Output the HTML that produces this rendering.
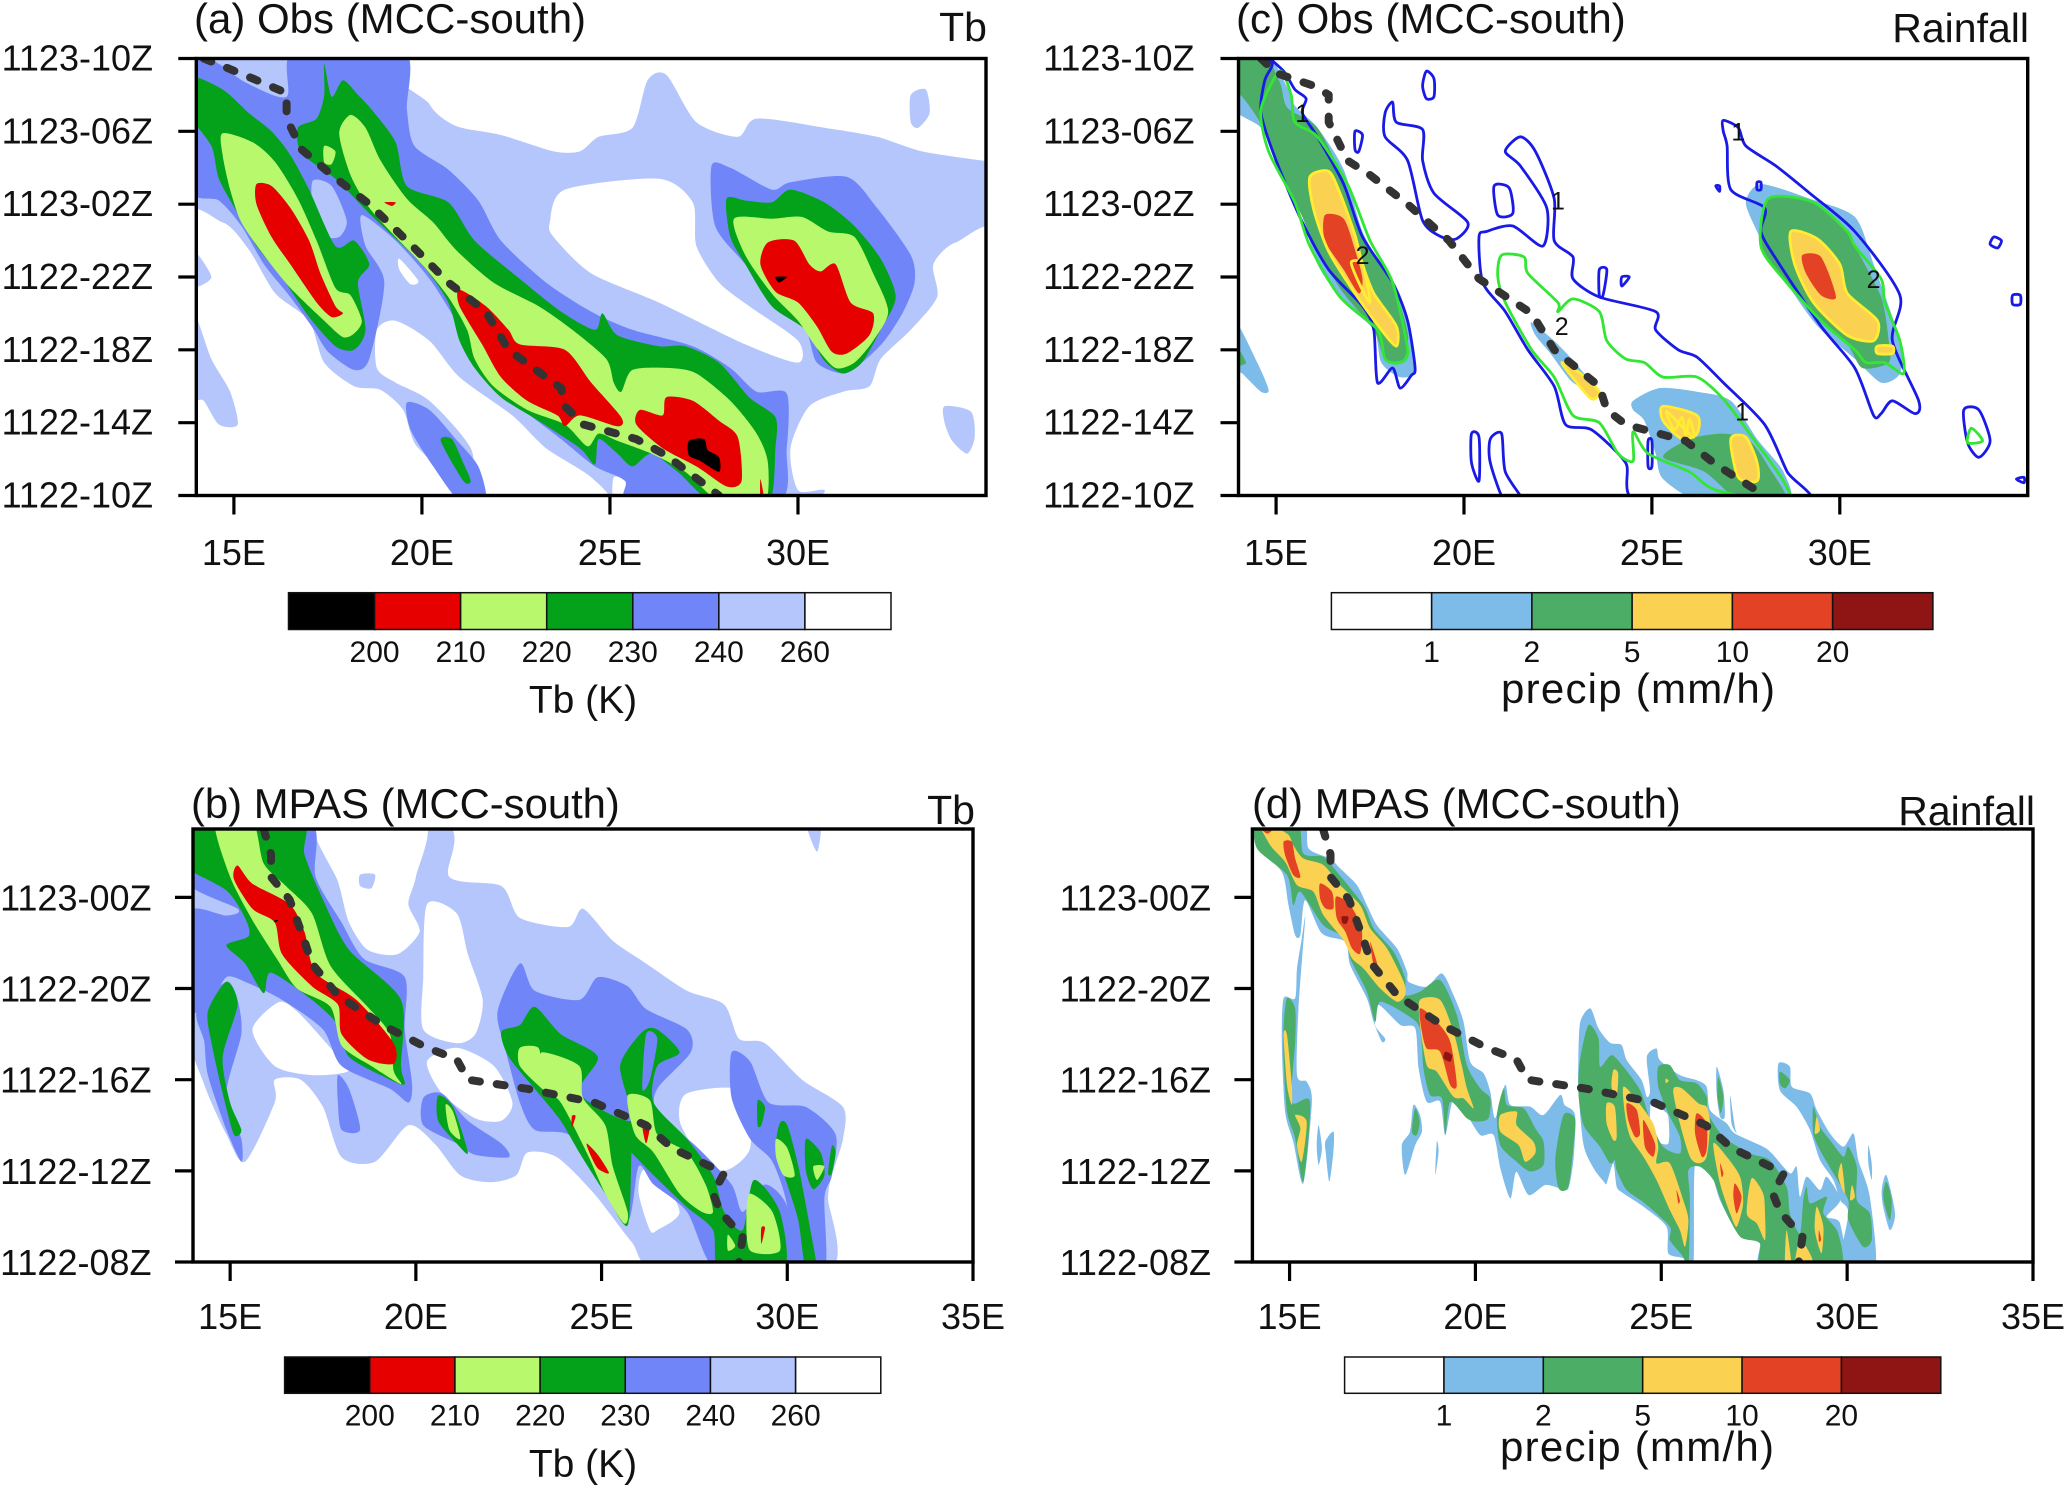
<!DOCTYPE html>
<html lang="en">
<head>
<meta charset="utf-8">
<title>MCC-south Hovmoller diagrams</title>
<style>
html,body{margin:0;padding:0;background:#fff;}
svg{display:block;font-family:"Liberation Sans",sans-serif;fill:#111;}
</style>
</head>
<body>
<svg id="figure" xmlns="http://www.w3.org/2000/svg" width="2067" height="1493" viewBox="0 0 2067 1493">
  <rect width="2067" height="1493" fill="#fff"/>
  <text x="194" y="33" font-size="42">(a) Obs (MCC-south)</text>
  <text x="987" y="41" font-size="41" text-anchor="end">Tb</text>
  <text x="1236" y="33" font-size="42">(c) Obs (MCC-south)</text>
  <text x="2029" y="42" font-size="41" text-anchor="end">Rainfall</text>
  <text x="191" y="818" font-size="41.8">(b) MPAS (MCC-south)</text>
  <text x="975" y="824" font-size="41" text-anchor="end">Tb</text>
  <text x="1252" y="818" font-size="41.8">(d) MPAS (MCC-south)</text>
  <text x="2035" y="825" font-size="41" text-anchor="end">Rainfall</text>
  <text x="583" y="713" font-size="39" text-anchor="middle">Tb (K)</text>
  <text x="583" y="1477" font-size="39" text-anchor="middle">Tb (K)</text>
  <text x="1638" y="703" font-size="42" text-anchor="middle" textLength="274" lengthAdjust="spacing">precip (mm/h)</text>
  <text x="1637" y="1461" font-size="42" text-anchor="middle" textLength="274" lengthAdjust="spacing">precip (mm/h)</text>
</svg>
<script>
/* ---------- axis labels and legend values ---------- */
const lonTicksTop = [15, 20, 25, 30];
const lonTicksBottom = [15, 20, 25, 30, 35];
const hourTicksTop = [0, 4, 8, 12, 16, 20, 24];
const hourLabelsTop = ['1122-10Z', '1122-14Z', '1122-18Z', '1122-22Z', '1123-02Z', '1123-06Z', '1123-10Z'];
const hourTicksBottom = [0, 4, 8, 12, 16];
const hourLabelsBottom = ['1122-08Z', '1122-12Z', '1122-16Z', '1122-20Z', '1123-00Z'];
const tbLevels = [200, 210, 220, 230, 240, 260];
const tbColors = ['#000000', '#e60000', '#b8f86c', '#04a21a', '#7086f8', '#b4c6fc', '#ffffff'];
const rainLevels = [1, 2, 5, 10, 20];
const rainColors = ['#ffffff', '#7dbbe8', '#4bad66', '#fbd152', '#e34225', '#8f1414'];

/* ---------- panel (a) Obs Tb: polygons as lon,hour pairs (hours since 1122-10Z) ---------- */
const aTb260 = [[14,0,35,0,35,24,14,24]];
const aClear = [
 [19.8,24.5,20.2,21.5,20.9,20.3,22.1,19.8,23.5,18.9,24.2,18.9,24.7,19.7,25.6,20.2,26,22.8,26.5,23.1,27.3,20.5,28.4,19.7,28.9,20.7,30.7,20.2,32.1,19.7,33.3,18.9,34.9,18.4,35.5,18.4,35.5,24.5],
 [23.4,15,23.8,16.8,26.3,17.4,27.2,16.1,27.3,13.7,27.9,11.7,28.7,10.4,30,8.5,30,7.3,28.6,8.3,26.3,10.6,24.5,12.2,23.5,14.2],
 [35.5,14,34.2,13.9,33.6,12.7,33.7,10.9,33,9.1,32.2,7.5,31.9,6,31.2,5.7,30.3,4.9,29.8,2.6,30,0.3,30.7,0.3,30.9,-0.5,35.5,-0.5],
 [13.5,14.8,14.7,15,15.4,13.5,16.1,11.1,17,9.6,17.4,7.3,18.2,6,18.9,5.8,19.5,4.7,19.8,2.9,20.7,-0.5,13.5,-0.5],
 [18.8,9.1,19.3,9.6,20.2,8.5,21,6.5,22.4,4.4,23.3,2.6,24.5,1,24.9,-0.5,21.7,-0.5,21.3,2.6,20.2,5.2,19.3,6.2,18.8,7],
 [25.1,1,25.4,0.8,25.6,-0.3,25.1,-0.3],
 [26.1,1,26.5,1.2,27,0.3,27,-0.3,26.1,-0.3],
 [19.4,13,19.9,11.8,19.7,11.6,19.4,12.4]
];
const aTb260Islands = [
 [33,22,33.4,22.3,33.5,21,33.2,20.2,33,20.5],
 [33.9,4.9,34.6,4.6,34.7,3.2,34.5,2.3,34.1,3,33.9,4],
 [13.9,10.1,14.4,7.5,14.9,5.7,15.1,3.9,14.6,3.9,14.2,5.2,13.9,5.6],
 [13.9,13.5,14.4,12,13.9,11.5]
];
const aTb240 = [
 [13.8,24.3,14.6,23.7,15.3,22.7,16.4,21.9,16.6,24.5,19.5,24.5,19.6,21.2,19.8,19.2,20.7,17.9,21.5,16.2,22.1,14,23.3,11.7,24.5,10.1,25.6,9.1,27.2,8.2,28.2,7,28.9,5.7,29.7,5.6,29.7,2.6,29.4,-0.5,25.6,-0.5,25.4,0.8,24.6,1.6,23.7,3.1,22.4,5.2,21.4,7.5,20.9,9.6,20.2,11.9,19.3,14,18.4,15.4,18.5,13.7,19,11.7,18.6,7.5,18.2,6.9,17.5,7.9,17.1,9.2,16.5,10.9,15.8,12.7,15.2,14.8,14.6,16.2,13.8,17],
 [27.7,18.1,28.2,18,29.3,16.8,29.8,17.2,31.3,17.5,32.1,15.8,33,13.2,33.1,11.7,32.8,10.1,32.3,8.5,31.7,7.3,31.2,6.7,30.5,7.3,30.2,9.1,29.4,10.6,28.6,12.7,27.8,14.8],
 [19.6,5.1,20.2,4.7,20.9,3.1,21.5,1.6,21.7,-0.3,21,-0.3,20.3,1.6,19.7,3.6]
];
const aTb240Holes = [[17.1,17.3,17.6,17,18,15.1,17.8,14.2,17.4,14.3,17.1,15.8]];
const aTb230 = [
 [13.8,23,14.7,22.3,15.4,21,16,20,16.5,18.7,17,16.8,17.7,13.7,18.2,14,18.6,12.7,18.3,11.7,18.5,9.1,18.2,8,17.7,8.2,17,9.8,16.3,11.9,15.6,13.7,15.1,15.5,14.6,17.4,14.4,19.2,13.8,21],
 [17.4,23.7,17.6,21.9,17.9,22.8,18.3,22,18.7,21.1,19.3,19.4,19.6,17,20.7,16.1,21.4,14,22.6,11.9,23.7,10.1,24.6,9.1,24.8,10,25.2,8.8,26.3,8.2,27,8.2,27.9,7.3,28.7,5.4,29.4,4.3,29.4,2.6,29.2,-0.5,27.8,-0.5,26.8,1.3,26.1,2.3,25.6,1.6,25.2,2.3,24.7,3.1,24.6,1.7,24.2,2.6,23.1,4.1,22.1,5.4,21.4,7,21,8.5,20.7,10.6,20,12.7,19.1,14.5,18.5,15.7,17.7,17.4,16.8,18.8,16.7,20.2,17.2,20.7,17.4,22],
 [28.1,16.3,28.6,16.2,29.3,16.1,29.8,16.8,30.7,16.1,31.5,14.8,32.2,13,32.6,10.9,32.2,9.1,31.7,7.3,31.2,6.7,30.7,7.4,30.2,9.1,29.3,10.4,28.6,12.7,28.2,14.2],
 [20.5,3,20.8,3.1,21.1,1.8,21.3,0.8,21.1,0.8]
];
const aTb220 = [
 [14.7,19.9,15.5,19.4,16.1,18.3,16.7,16.3,17.2,14,17.7,11.4,18.1,11,18.4,9.6,18.2,8.9,17.9,8.7,17.4,9.6,16.5,11.4,15.8,13.2,15.2,15,14.9,16.8,14.7,18.7],
 [18.1,20.9,18.5,20.2,18.9,18.4,19.6,16.3,20.3,15,20.9,13.5,21.9,11.7,23.1,10.4,24,9.1,24.9,7.5,25.1,6.2,25.3,5.7,25.6,6.9,26.6,7,27.3,6.7,28.2,5.2,28.9,3.4,29.2,1.8,29.1,-0.5,28,-0.5,27,1.3,26.1,2.3,25.2,3,24.7,3.4,24.4,2.7,23.8,3.9,22.8,4.7,21.9,6,21.4,7.5,21.2,9.1,20.7,10.9,20,12.7,19.3,14.2,18.6,15.8,18.1,17.6,17.8,19.9],
 [17.4,19.2,17.7,18.9,17.6,18.2,17.4,18.3],
 [28.3,15.2,29.3,15.2,30.1,15.3,30.8,14.5,31.5,14.2,32,12.2,32.4,10.1,32,8.5,31.5,7.3,31,7,30.5,8.1,30,9.6,29.3,11.1,28.6,13.2]
];
const aTb210 = [
 [15.6,17.1,16,17,16.5,15.8,17,14,17.3,12.2,17.7,10.4,17.9,10,17.6,9.8,17.2,10.6,16.5,12.7,16,14.2,15.6,16],
 [21,11.3,21.7,10.4,22.3,9.1,22.6,8.3,23.8,8,24.5,6.2,25.3,4.3,25.2,3.8,24.2,4.4,23.8,3.8,23.6,4.4,22.8,5.2,22.1,6.5,21.6,8.3,21,10.4],
 [26.5,5.4,27.2,5.2,27.9,4.1,28.4,3.2,28.5,0.8,28.1,0.5,27.3,1.6,26.4,2.6,25.7,3.9,25.8,4.7,26.4,4.4],
 [29.2,13.9,29.9,14,30.3,12.7,30.6,12.3,31,12.7,31.4,10.6,32,10,31.9,8.8,31.3,7.8,30.9,7.9,30.5,9.3,30,10.6,29.4,11.2,29,12.7],
 [19,16.1,19.3,16.1,19.2,15.9],
 [29,0.9,29.1,-0.2,29,-0.2]
];
const aTb200 = [
 [27.1,3,27.5,3.1,27.6,2.5,27.9,2.1,27.9,1.3,27.4,1.9,27.1,2.2],
 [29.4,12,29.7,12,29.5,11.7]
];
const aTrack = [14.2,24,14.8,23.5,15.5,22.9,16.4,22.1,16.4,20.7,16.8,19,17.6,17.6,18.6,16,19.7,13.8,20.7,11.7,21.7,10.1,22.3,8,23.7,5.9,23.8,4.9,24.3,3.9,25.7,3.1,26.5,2.2,27.9,0];

/* ---------- panel (c) Obs rainfall ---------- */
const cRain1 = [
 [13.8,24.5,14.7,24.5,15.3,22.4,15.5,21.4,16.1,20.2,16.8,17.9,17.3,14.5,18,11.9,18.5,9.8,18.7,6.9,18.3,6.5,17.8,7.3,17.6,9.1,16.8,10.6,16.1,12.7,15.7,15.3,15,18.4,14.6,20.2,13.8,21.4],
 [13.9,9.6,14.5,7.3,14.8,5.8,14.6,5.7,14.1,6.7,13.9,7],
 [21.8,9.5,22.5,8.3,23.2,6.7,23.5,5.8,22.9,6.2,22.3,7.8,21.9,8.8],
 [24.5,5.2,25.2,5.9,26.2,5.7,27.1,5.2,27.8,3.1,28.5,1.3,28.6,-0.4,26.4,-0.4,25.3,0.9,25.1,2.3,24.8,4.1,24.5,4.7],
 [27.5,16.1,27.9,17.1,29.2,16.3,30.4,15.3,30.9,12.7,31.6,8.5,31.6,6.7,31.1,6.2,30.4,7.5,29.5,9.1,29,10.4,28.1,13.2,27.8,14.5]
];
const cRain2 = [
 [13.8,24.5,14.6,24.5,15.1,22.7,15.3,21.3,16.1,20.2,16.8,17.3,17.3,14.2,18.1,11.6,18.5,8.9,18.4,7.5,17.9,7.5,17.6,9.1,16.8,11.1,16.1,13.4,15.7,15.3,15,18.4,14.6,20.4,14.1,21.9,13.8,22.3],
 [13.9,8.3,14.2,7.3,13.9,7.2],
 [25.3,2.1,26,3.1,26.9,3.4,27.6,3,28.1,1.6,28.6,-0.4,27.4,-0.4,26.4,1.3],
 [28.1,16.3,29.3,16.1,30.2,14.5,30.4,13.7,31.1,10.9,31.3,8.5,31.3,7.3,30.6,7,30.2,8.3,29.3,10.1,28.5,11.9,27.9,13.7]
];
const cRain5 = [
 [15.9,17.5,16.4,17.8,16.7,16.6,17.1,14.3,17.3,12.7,17.6,11.1,18.2,9.3,18.2,8.2,17.8,9.1,17.1,11.1,16.4,13.4,16,15.7],
 [22.6,7.3,23.1,6.7,23.6,5.7,23.4,5.3,23,6.2],
 [25.3,4.9,26.2,4.4,26.2,3.4,25.8,3.1,25.3,4.1],
 [27.1,3.1,27.5,3.2,27.8,1.8,27.8,0.8,27.3,1],
 [28.7,14.5,29.4,14.1,30,12.7,30.2,11.1,31,9.6,30.9,8.5,30.2,8.8,29.3,10.6,28.8,12.7],
 [31,8.2,31.4,8.2,31.4,7.8,31,7.8]
];
const cRain10 = [
 [16.3,15.4,16.8,15.2,17.1,13.5,17.3,11.9,17.2,11.1,16.8,12.4,16.3,14],
 [29,13.2,29.5,13.1,29.9,10.9,29.5,11,29.1,12.2]
];
const cContourBlue = [
 [14.6,24.4,14.9,23.7,14.7,22.8,14.6,21,15,18.4,15.7,15,16.4,12.4,17.3,10.4,17.6,9.1,17.7,6.2,18.1,7,18.3,5.9,18.6,6.6,18.7,7,18.5,9.6,18.1,11.7,17.3,14.2,16.8,17.1,16.1,19.7,15.7,21,15.8,21.8,15.5,22.3,15.2,23.3],
 [18.1,21.6,18.2,20.5,18.9,20.1,18.9,18.4,19.2,16.6,20.1,15,19.8,14.1,19.4,14.2,18.9,15.1,18.5,18.4,17.9,19.7,17.9,21],
 [24.7,-0.4,24.3,1.8,23.4,3.6,22.7,3.9,22.4,6,21.7,8,21.1,10.1,20.5,11.7,20.4,14.2,20.6,14.5,21.3,14.8,22.1,13.7,22.2,15.8,21.5,18.1,21.1,18.9,21.5,19.7,21.9,18.9,22.4,16.3,22.4,14,22.9,13.1,22.9,11.9,23.6,10.9,25.1,10.1,25.1,9.1,25.7,8,26.2,7.6,26.9,6.2,28,3.9,28.6,1.3,29.1,-0.4],
 [20.8,17,21.2,16.9,21.3,15.5,20.9,15.4],
 [19,23.3,19.2,22.9,19.2,21.9,19,21.8,18.9,22.5],
 [17.1,20,17.3,19.8,17.2,18.9,17.1,19],
 [20.2,3.4,20.4,3.2,20.4,0.8,20.2,1.8],
 [20.7,3.1,21,3.4,21.1,1.3,21.6,-0.4,21.1,-0.4,20.7,1.8],
 [23.6,12.4,23.8,12.4,23.7,11,23.6,11],
 [24.2,12,24.4,12,24.2,11.5],
 [24.9,3,25,3,25,1.6,24.9,1.6],
 [26.9,20.6,27.3,20.2,27.5,19.2,28.3,18.1,29.2,16.6,30.4,14.5,31.6,11,31.4,8.5,32.1,5.2,32,4.5,31.4,5.2,31.1,4.5,30.9,4.4,30.4,7,29.5,9.3,28.3,13,27.9,14.5,28,15.8,27.1,16.8,27,19.2,26.9,20],
 [34.1,14.2,34.3,14,34.2,13.6,34,13.8],
 [34.6,11,34.8,11,34.8,10.5,34.6,10.5],
 [33.3,4.7,33.7,4.7,34,3,33.7,2.1,33.4,2.9],
 [34.7,0.9,34.9,1,34.9,0.7],
 [27.8,17.2,27.9,17.2,27.9,16.8,27.8,16.8],
 [26.7,17,26.8,17,26.8,16.7]
];
const cContourGreen = [
 [14.6,21.2,15.1,23.3,15.4,22,15.5,20.5,16.1,19.7,16.9,17.1,17.5,14,18.1,11.7,18.5,8,18.3,7.3,17.9,7.5,17.7,9.1,16.7,10.9,15.9,13.7,15.5,16.1,14.8,18.9],
 [26.7,0.3,26,1.3,24.9,2.3,24.5,3.5,24.5,1.9,24.1,2.3,23.6,4,22.9,4.4,22.4,6.5,21.8,8,21.1,10.6,20.9,12,21,13.2,21.6,13.1,21.7,12.2,22.5,10.6,22.5,10.1,22.9,10.8,23.6,10.1,23.8,8.5,24.3,7.5,24.8,7.3,25.3,6.5,26.2,6.5,26.9,5.3,27.6,3.4,28.5,0.8,28.6,-0.4],
 [28.1,16.3,29.3,16.1,30.2,14.5,30.4,13.7,31.1,11.9,31.2,10.6,31.6,8.5,31.7,6.7,31.2,7.3,30.7,7.3,30.4,8,29.5,9.6,28.5,11.9,27.9,13.7],
 [33.5,3.7,33.8,3,33.4,2.9]
];
const cContourYellow = [
 [17,12.8,17.3,12.7,17.5,10.6,17.2,11.7],
 [25.4,4.6,25.6,3.6,25.8,4.3,25.9,3.3,26,4.2,26.1,3.2]
];
const cTrack = [14.6,24,15,23.2,16,22.5,16.4,22,16.4,20.5,16.9,18.4,17.5,17.6,18.5,16,19.6,14,20.4,11.9,21.8,10,22.4,8,23.6,6,23.8,4.7,24.3,3.9,25.9,3,26.7,1.7,28,0];
const cLabelText = ['2', '2', '2', '1', '1', '1', '1'];
const cLabelLon = [22.6, 17.3, 30.9, 15.7, 22.5, 27.3, 27.4];
const cLabelHour = [9.3, 13.2, 11.9, 21, 16.2, 20, 4.6];

/* ---------- panel (b) MPAS Tb: hours since 1122-08Z ---------- */
const bTb260 = [
 [13.8,19.4,20.6,19.4,20.9,16.9,22.3,16.5,22.8,15.1,24.1,14.7,24.5,15.5,25.3,14.1,26.2,13.1,27.3,11.9,28.3,11.3,28.7,9.8,29.4,9.6,30.4,8,31.5,6.8,31.5,5.4,31.2,3.8,31.1,2.8,31.1,-0.4,26.6,-0.4,25.8,0.9,24.8,3,23.8,4.6,23,4.8,22.7,3.8,22,3.5,21.2,3.8,20.5,5.2,19.8,6,18.9,4.4,18,4.6,17.5,6.8,16.9,8,16.2,8,16.2,7,15.4,4.4,14.9,5.6,14.3,7.8,13.8,10.8],
 [30.5,19.3,30.9,19.3,30.8,18]
];
const bClear = [
 [17.3,19.4,20.2,19.4,20,16.9,19.8,15.7,20.1,14.5,19.5,13.5,18.7,13.7,18.2,14.9,17.9,16.7],
 [20.3,15.7,21.1,15.3,21.4,13.5,21.8,11.5,21.6,10,21.1,9.6,20.2,10.2,20.2,12.5],
 [16.3,11.4,16.8,11,17.7,9.4,18.2,8.4,17.2,8.2,16.2,8.6,15.6,10.2],
 [20.3,8.8,21.1,9.4,22.1,8.6,22.6,7,22.3,6.2,21.6,6.3,20.7,7.4],
 [27.3,7.4,28.8,7.5,29,5,28.3,4,27.6,4.8,27.1,6.2],
 [26.1,4,26.5,4,27.1,2.2,26.5,1.4,26.3,1.4,26,3]
];
const bTb260Islands = [[18.5,17,18.9,17,18.8,16.4,18.5,16.5]];
const bTb240 = [
 [13.8,19.4,17.1,19.4,17.3,16.9,18,14.9,18.6,13.3,19.7,12.5,19.7,10.2,19.9,7.8,19.8,7,19.3,7.6,18,8.6,17.5,10.2,16.4,11.5,15.4,12.3,14.9,12.5,14.5,11.5,13.8,11,13.8,15.3,14.9,15.2,15.2,15.5,13.8,16.7],
 [14.9,12.3,15.2,11.5,15.3,10,14.9,7.4,15.3,5.4,15.3,4.4,14.9,5.8,14.4,8.2,14.3,9.7,14.1,11],
 [22.8,13.1,23.2,11.9,24.4,11.5,24.9,12.5,25.7,12.1,26.2,11.1,27.3,10.2,27.4,9.2,26.5,7.6,26.5,6.6,27.6,5,28.5,3.4,28.8,2.2,29.4,3.4,30,2.4,30,-0.4,28.1,-0.4,27.3,2.2,26.4,3.4,26,4.2,25.7,1.8,24.9,4.2,24.1,5.6,23.2,5.8,22.8,7,22.4,9.4,22.2,11],
 [28.5,9.2,29,8.8,29.5,7,30.5,6.8,31.3,5.6,31.2,3.8,31,2.8,31,-0.4,30,-0.4,30,2.4,29.6,4.4,29,5.4,28.5,7.2],
 [20.2,7.2,20.7,7.4,21.4,6.2,22.3,5.2,22.5,4.6,21.6,4.7,21.1,5.2,20.2,6],
 [17.9,8.2,18.2,7.6,18.5,5.8,18,5.8,17.9,7]
];
const bTb230 = [
 [14.3,19.4,16.9,19.4,17,17.9,17.5,15.9,18.2,13.7,19.6,11.5,19.6,8.6,19.7,7.8,19.3,8,18.2,9,17.9,10.4,17.2,11.5,16.1,12.7,15.9,11.8,15.4,13.1,14.9,13.9,15.5,14.3,15.4,15.1,14.9,16.3,13.8,17.3,13.8,17.9],
 [14.9,12.3,15.2,11.3,14.8,9,15,7,15.3,5.8,15.1,5.6,14.8,7.4,14.5,9.6,14.4,11],
 [23.2,11.2,23.9,10,24.9,9,24.4,7.4,25.8,6.2,25.5,8.6,26.1,10.1,26.5,10.2,27.1,9.2,26.5,8.6,26.4,7,27.3,5.4,28,3.8,28.3,2.2,28.8,1.4,29.1,3.6,29.8,2.2,29.9,-0.4,28.2,-0.4,28,1.4,27.3,2.4,26.4,3.8,25.8,4.8,25.8,4.6,25.7,1.6,25.1,3,24.4,4.8,23.9,6.2,23.2,7.6,22.5,9,22.3,10.1,22.8,10.4],
 [29.8,6.1,30,6,30.3,4.2,30.6,1.6,30.8,-0.4,30.5,-0.4,30.3,1.8,30,3.4,29.7,5],
 [30.5,5.4,30.9,4.8,31,3.8,30.7,3.2,30.5,4],
 [31.2,5.1,31.3,4.8,31.2,3.9,31.1,3.9],
 [20.6,7.3,21,6.8,21.4,4.8,21.1,5.2,20.6,6.2],
 [29.2,7.1,29.4,6.8,29.3,6,29.2,6]
];
const bTb230Holes = [[26.2,10,26.5,9.8,26.3,8,26.1,7.6]];
const bTb220 = [
 [14.6,19.3,15.6,19.3,15.9,17.5,16.5,16.5,17.2,15.3,17.7,13,18.7,11.2,19.3,10,19.4,8.4,19.6,7.8,18.8,8.6,18,9.5,17.7,11.2,16.8,12,16.3,13.2,15.6,15,15,16.9],
 [22.8,9.4,23.3,9.4,23.4,8.4,23.4,9.2,24.4,8.6,24.5,7.2,25.1,6,25.3,4.2,25.7,2.2,25.6,1.7,25.1,3,24.6,4.8,23.9,7,23.4,7.6,22.8,8.6],
 [25.7,7.3,26.3,7.1,26.5,5.6,27.3,4.8,27.8,3.4,28,2.2,27.7,2.2,27.1,3,26.4,4.8,25.9,5.6],
 [29,3,29.6,2.2,29.8,0.5,29,0.5,28.9,2],
 [29.7,5.4,30,5,30.2,3.8,29.9,3.8,29.7,4.6],
 [30.7,4.2,31,4.2,30.8,3.6],
 [20.8,6.9,21,6.6,21.2,5.4,20.9,5.8],
 [28.4,1.2,28.6,0.7,28.4,0.5]
];
const bTb210 = [
 [15.2,17.4,15.6,16.6,16.6,15.7,17,14.5,17.3,12.7,18.4,11.5,19.4,9.6,19.4,8.7,18.7,8.9,18,10,17.9,11.3,17.2,12.1,16.4,13.5,16.2,14.9,15.6,15.5,15.1,16.8],
 [24.2,6.4,24.3,6.4,24.2,5.9],
 [24.6,5.2,24.9,4.7,25.2,3.9,24.9,4.1,24.7,4.7],
 [26.1,6,26.3,6,26.2,5.2],
 [29.3,1.5,29.4,1.5,29.3,0.8]
];
const bTb200 = [[16.2,15,16.3,15,16.2,14.9]];
const bdTrack = [15.9,19,16.1,17.9,16.1,16.9,16.6,15.9,17,14.1,17.2,13.1,17.9,11.7,19.1,10.4,20.3,9.4,21.1,8.9,21.4,8,23,7.6,24.8,7,26.2,6,26.9,5,28.3,3.9,28,3,28.2,2.2,28.8,1.1,28.7,0];

/* ---------- panel (d) MPAS rainfall ---------- */
const dRain1 = [
 [14.12,19.4,15.37,19.4,15.51,18.15,16.09,17.7,16.36,17.27,16.81,16.54,17.08,15.66,17.35,14.78,17.89,13.76,18.16,12.74,18.2,12.3,18.69,12.08,19.1,12.66,19.41,11.71,19.68,10.54,19.86,8.79,20.22,8.28,20.4,7.47,20.53,6.3,20.8,7.77,20.94,6.89,21.47,6.82,21.83,6.45,22.28,7.33,22.4,6.89,22.68,6.45,22.64,4.55,22.5,3.23,22.28,3.23,21.88,3.38,21.43,2.94,21.1,3.96,20.94,2.79,20.67,4.11,20.49,5.57,20.13,5.57,19.77,6.45,19.41,7.18,19.19,5.57,19.05,7.03,18.69,7.03,18.47,8.5,18.38,10.25,17.98,10.4,17.39,11.28,17.3,10.4,17.57,9.81,17.48,9.67,17.26,10.54,17.08,11.57,16.63,13.03,16.5,14.05,15.87,14.42,15.42,15.88,15.29,14.35,15.15,14.35,14.97,15.66,14.79,17.12,14.12,18.22],
 [14.84,11.57,15.15,11.57,15.2,12.88,15.33,14.2,15.42,15.08,15.24,11.13,15.2,8.2,15.46,7.91,15.6,7.03,15.37,3.45,15.1,5.28,14.88,6.6,14.79,9.67],
 [15.78,6.01,15.87,4.99,15.78,4.26,15.73,5.13],
 [15.96,5.28,16.18,5.72,16.18,4.84,16.07,3.53,15.98,4.7],
 [18.33,6.89,18.51,6.45,18.56,5.72,18.38,5.13,18.11,3.82,18.02,5.13,18.24,5.72],
 [18.96,5.28,19.01,4.84,18.92,3.82],
 [22.82,10.54,23.09,11.13,23.31,10.25,23.62,9.62,23.93,9.52,24.07,8.86,24.47,7.98,24.61,7.25,24.7,7.54,24.61,9,24.87,9.37,24.96,8.86,25.5,8.2,25.95,7.98,26.22,7.69,26.31,6.67,26.76,6.08,26.98,5.64,27.74,5.06,27.97,4.77,28.46,3.89,28.64,4.18,28.73,2.86,28.91,3.74,29.27,3.16,29.45,3.74,29.81,2.72,29.45,1.99,29.81,1.69,29.81,-0.4,27.7,-0.4,27.65,0.96,27.03,1.4,26.58,2.72,26.31,4.03,25.91,4.33,25.86,-0.3,25.59,0.16,25.19,0.38,25.14,1.55,24.52,2.43,23.98,3.01,23.8,3.3,23.71,4.33,23.53,3.45,23.45,3.53,23.18,4.11,22.91,5.13,22.77,7.47,22.77,8.93],
 [28.15,8.71,28.46,8.57,28.51,7.69,29,7.4,29.18,6.67,29.54,5.64,29.9,5.06,30.17,5.64,30.3,4.47,30.61,2.86,30.75,-0.4,29.81,-0.4,30.03,2.13,29.81,2.72,29.63,3.6,29.27,4.47,29,5.79,28.64,6.81,28.19,7.54],
 [26.49,8.57,26.67,7.54,26.71,6.37,26.58,6.37,26.49,7.4],
 [26.85,7.32,26.98,5.93,27.03,5.64,26.89,6.08],
 [30.57,5.13,30.66,4.33,30.66,3.6,30.57,4.33],
 [31.06,3.81,31.29,2.13,31.15,1.4,30.97,2.43,30.93,3.16]
];
const dClear = [[24.74,7.1,25.05,6.67,25.19,6.37,25.19,5.2,24.83,5.35,24.7,5.93]];
const dRain2 = [
 [14.14,19.4,15.2,19.4,15.37,17.93,15.91,17.78,16.27,17.12,16.99,15.66,17.26,14.64,17.8,13.61,18.11,12.44,18.11,11.71,18.51,11.86,19.05,12.37,19.5,10.84,19.77,8.64,20.13,7.62,20.4,7.18,20.35,6.3,20.04,6.16,19.77,6.3,19.32,7.03,19.19,5.57,19.1,7.18,18.78,7.33,18.6,8.5,18.51,10.25,18.16,10.84,17.44,11.42,17.3,10.54,17.08,11.86,16.63,13.32,16.54,14.2,15.91,14.78,15.29,16.25,15.1,15.66,14.93,16.98,14.12,18.15],
 [14.93,11.57,15.15,11.13,15.15,9.67,15.06,7.03,15.55,7.03,15.37,3.53,15.15,5.43,14.93,6.6,14.84,8.93,14.84,10.4],
 [18.38,6.74,18.5,6.16,18.42,5.57,18.29,5.72],
 [20.76,7.62,20.85,6.89,21.3,6.74,21.61,5.87,21.83,5.28,21.83,4.26,21.47,3.97,21.11,4.4,20.67,5.13,20.58,6.45],
 [22.37,6.45,22.68,6.3,22.64,5.13,22.5,3.31,22.24,3.23,22.15,4.55],
 [23.35,8.57,23.66,9.08,23.98,8.57,24.43,7.54,24.7,6.23,25.05,5.06,25.5,4.76,25.5,5.5,25.19,6.52,24.92,7.69,24.92,8.57,25.23,8.64,25.5,7.98,25.95,7.84,26.22,7.25,26.26,6.52,26.67,5.5,27.39,4.76,27.92,4.47,28.37,3.3,28.46,2.13,28.73,1.26,28.82,2.72,28.91,3.3,29,2.57,29.45,2.86,29.36,2.13,29.76,1.26,29.76,-0.4,27.74,-0.4,27.65,0.82,27.12,1.11,26.67,2.43,26.4,3.6,26.04,4.18,25.73,4.03,25.77,2.72,25.73,-0.3,25.59,0.23,25.23,0.96,25.23,1.55,24.56,2.57,24.07,3.16,23.8,4.03,23.75,4.47,23.62,4.33,23.35,5.06,22.91,6.01,22.77,7.47,22.82,8.93,23.04,10.4,23.31,9.81],
 [28.19,8.35,28.46,7.98,28.33,7.62,28.19,7.83],
 [29.09,6.81,29.27,5.93,29.54,5.35,29.9,4.62,30.03,5.06,30.26,4.18,30.26,2.72,30.61,2.13,30.66,0.96,30.43,0.67,30.03,1.84,30.03,2.72,29.63,3.89,29.27,4.91,29.09,5.64],
 [26.53,8.13,26.67,7.25,26.6,6.52,26.51,7.25],
 [31.06,3.52,31.2,2.72,31.15,1.84,31.02,2.43,30.97,3.01]
];
const dRain5 = [
 [14.16,19.4,14.93,18.8,15.1,18.29,15.37,17.71,15.91,17.42,16.36,16.54,16.9,15.66,17.17,14.64,17.62,13.76,18.07,12.3,18.11,11.71,17.89,11.42,17.44,12,16.99,12.88,16.68,13.32,16.45,14.13,15.91,15.22,15.64,16.25,15.2,16.54,14.88,17.56,14.48,18.29],
 [18.51,11.5,19.05,11.5,19.41,10.1,19.63,8.64,19.77,7.62,19.95,6.74,19.68,7.18,19.41,7.25,18.96,8.35,18.69,8.64,18.51,10.4],
 [20.67,6.45,21.11,6.6,21.11,6,21.56,5.28,21.61,4.77,21.34,4.4,21.16,5.13,20.67,5.72],
 [14.84,9.96,14.93,9.96,15.06,7.77,15.06,6.89,14.93,7.77],
 [15.15,6.45,15.46,6.16,15.33,4.4,15.2,5.13,15.29,5.87],
 [23.71,8.42,23.84,8.27,23.8,7.25,23.66,7.69],
 [23.98,7.69,24.34,7.1,24.78,6.08,24.92,5.06,24.87,4.33,25.23,4.33,25.59,2.72,25.73,1.84,25.64,0.67,25.5,1.4,25.23,2.28,24.87,3.6,24.52,4.62,24.16,5.5,24.02,6.52],
 [23.53,6.96,23.75,6.81,23.8,5.5,23.71,5.35,23.53,6.08],
 [25.32,7.54,25.55,7.62,26,6.96,26.22,6.81,26.31,6.08,26.22,4.62,26,4.33,25.77,4.62,25.5,6.08],
 [26.4,5.2,26.76,4.62,27.12,3.74,27.2,2.57,27.03,1.55,26.85,2.13,26.58,3.45],
 [27.43,3.67,27.74,3.01,27.79,2.13,27.79,0.96,27.57,1.69,27.3,2.13],
 [28.37,1.4,28.51,-0.3,28.33,-0.3],
 [28.73,0.96,29.04,0.23,29.04,-0.3,28.6,-0.3],
 [29.18,2.43,29.36,1.55,29.31,0.38,29.13,1.4],
 [29.18,6.37,29.27,5.79,29.13,5.64],
 [29.85,4.33,29.94,3.01,29.76,3.74],
 [30.13,3.38,30.21,2.86,30.08,2.72],
 [25.12,8.05,25.2,7.95,25.12,7.85]
];
const dRain10 = [
 [14.84,18.44,15.06,18.44,15.15,17.71,15.29,16.9,15.1,16.98,14.88,17.85],
 [15.82,16.61,16.14,16.25,16.18,15.52,15.96,15.52,15.82,15.95],
 [16.25,16.03,16.63,15.66,16.94,14.64,16.9,13.54,16.68,13.76,16.5,14.49,16.27,15.08],
 [17.17,14.05,17.39,12.88,17.26,13.03],
 [18.51,11.13,18.96,10.54,19.32,9.67,19.5,7.77,19.32,7.77,19.05,9.23,18.69,9.37,18.56,10.1],
 [14.2,19.1,14.6,19.1,14.4,18.8],
 [24.07,6.96,24.34,6.67,24.43,5.64,24.29,5.5,24.11,6.23],
 [24.52,6.23,24.83,5.2,24.78,4.62,24.56,5.06],
 [25.95,6.52,26.22,6.08,26.22,4.91,26.09,4.62,25.91,5.64],
 [26.58,4.33,26.67,3.89,26.62,3.74],
 [26.98,3.45,27.16,2.86,27.03,2.13,26.94,2.86],
 [25.41,3.16,25.5,2.72,25.46,2.57],
 [29.24,1.4,29.3,1,29.24,0.9]
];
const dRain20 = [
 [16.4,15.15,16.58,15.15,16.54,14.86,16.43,14.86],
 [19.19,9.23,19.37,9.08,19.32,8.79,19.14,8.94]
];

/* ---------- paint orders: [polygon list, colour index] ---------- */
const paintA = [[aTb260,5],[aClear,6],[aTb260Islands,5],[aTb240,4],[aTb240Holes,5],[aTb230,3],[aTb220,2],[aTb210,1],[aTb200,0]];
const paintB = [[bTb260,5],[bClear,6],[bTb260Islands,5],[bTb240,4],[bTb230,3],[bTb230Holes,4],[bTb220,2],[bTb210,1],[bTb200,0]];
const paintC = [[cRain1,1],[cRain2,2],[cRain5,3],[cRain10,4]];
const paintD = [[dRain1,1],[dClear,0],[dRain2,2],[dRain5,3],[dRain10,4],[dRain20,5]];

/* ---------- drawing ---------- */
const NS = 'http://www.w3.org/2000/svg';
const figure = document.getElementById('figure');

function makeAxes(left, right, top, bottom, hourMax) {
  return {
    left, right, top, bottom,
    x: function (lon) { return left + (lon - 14) / 21 * (right - left); },
    y: function (hour) { return bottom - hour / hourMax * (bottom - top); }
  };
}
function toPoints(axes, flat) {
  const out = [];
  for (let i = 0; i < flat.length; i += 2) {
    out.push(axes.x(flat[i]).toFixed(1) + ',' + axes.y(flat[i + 1]).toFixed(1));
  }
  return out.join(' ');
}
/* closed Catmull-Rom outline so the contours read as smooth curves */
function toSmoothPath(axes, flat) {
  const p = [];
  for (let i = 0; i < flat.length; i += 2) {
    p.push([axes.x(flat[i]), axes.y(flat[i + 1])]);
  }
  const n = p.length;
  if (n === 4 && flat[0] === 14 && flat[2] === 35) {
    return 'M' + p.map(function (q) { return q[0].toFixed(1) + ' ' + q[1].toFixed(1); }).join('L') + 'Z';
  }
  const k = 0.13;
  let d = 'M' + p[0][0].toFixed(1) + ' ' + p[0][1].toFixed(1);
  for (let i = 0; i < n; i++) {
    const a = p[(i - 1 + n) % n], b = p[i], c = p[(i + 1) % n], e = p[(i + 2) % n];
    d += 'C' + (b[0] + (c[0] - a[0]) * k).toFixed(1) + ' ' + (b[1] + (c[1] - a[1]) * k).toFixed(1) +
         ' ' + (c[0] - (e[0] - b[0]) * k).toFixed(1) + ' ' + (c[1] - (e[1] - b[1]) * k).toFixed(1) +
         ' ' + c[0].toFixed(1) + ' ' + c[1].toFixed(1);
  }
  return d + 'Z';
}
function addLine(parent, x1, y1, x2, y2, w) {
  const el = document.createElementNS(NS, 'line');
  
  
  el.setAttribute('x1', x1);
  el.setAttribute('y1', y1);
  el.setAttribute('x2', x2);
  el.setAttribute('y2', y2);
  el.setAttribute('stroke', '#000');
  el.setAttribute('stroke-width', w);
  parent.appendChild(el);
}
function addText(parent, str, x, y, size, anchor) {
  const el = document.createElementNS(NS, 'text');
  
  
  el.setAttribute('x', x);
  el.setAttribute('y', y);
  el.setAttribute('font-size', size);
  el.setAttribute('text-anchor', anchor);
  el.textContent = str;
  parent.appendChild(el);
  return el;
}
function drawPanel(id, axes, paint, colors, track, contours, lonTicks, hourTicks, hourLabels, labelRight, labelBase) {
  const g = document.createElementNS(NS, 'g');
  
  
  figure.appendChild(g);

  const clip = document.createElementNS(NS, 'clipPath');
  clip.setAttribute('id', 'clip-' + id);
  const clipRect = document.createElementNS(NS, 'rect');
  clipRect.setAttribute('x', axes.left);
  clipRect.setAttribute('y', axes.top);
  clipRect.setAttribute('width', axes.right - axes.left);
  clipRect.setAttribute('height', axes.bottom - axes.top);
  clip.appendChild(clipRect);
  g.appendChild(clip);

  const plot = document.createElementNS(NS, 'g');
  
  
  plot.setAttribute('clip-path', 'url(#clip-' + id + ')');
  g.appendChild(plot);

  paint.forEach(function (layer) {
    layer[0].forEach(function (flat) {
      const poly = document.createElementNS(NS, 'path');
      
      
      poly.setAttribute('d', toSmoothPath(axes, flat));
      poly.setAttribute('fill', colors[layer[1]]);
      plot.appendChild(poly);
    });
  });

  contours.forEach(function (set) {
    set[0].forEach(function (flat) {
      const line = document.createElementNS(NS, 'path');
      
      
      line.setAttribute('d', toSmoothPath(axes, flat));
      line.setAttribute('fill', 'none');
      line.setAttribute('stroke', set[1]);
      line.setAttribute('stroke-width', '2.8');
      line.setAttribute('stroke-linejoin', 'round');
      plot.appendChild(line);
    });
  });

  const path = document.createElementNS(NS, 'polyline');
  
  
  path.setAttribute('points', toPoints(axes, track));
  path.setAttribute('fill', 'none');
  path.setAttribute('stroke', '#333333');
  path.setAttribute('stroke-width', '8');
  path.setAttribute('stroke-dasharray', '8 17');
  path.setAttribute('stroke-linecap', 'round');
  path.setAttribute('stroke-linejoin', 'round');
  plot.appendChild(path);

  const frame = document.createElementNS(NS, 'rect');
  
  
  frame.setAttribute('x', axes.left);
  frame.setAttribute('y', axes.top);
  frame.setAttribute('width', axes.right - axes.left);
  frame.setAttribute('height', axes.bottom - axes.top);
  frame.setAttribute('fill', 'none');
  frame.setAttribute('stroke', '#000');
  frame.setAttribute('stroke-width', '3.4');
  g.appendChild(frame);

  lonTicks.forEach(function (lon) {
    const x = axes.x(lon);
    addLine(g, x, axes.bottom, x, axes.bottom + 19, 3.2);
    addText(g, lon + 'E', x, axes.bottom + (id === 'a' || id === 'c' ? 69.5 : 67), 36, 'middle');
  });
  hourTicks.forEach(function (hour, i) {
    const y = axes.y(hour);
    addLine(g, axes.left - 18, y, axes.left, y, 3.2);
    addText(g, hourLabels[i], labelRight, y + labelBase, 36, 'end');
  });
}
function drawColorbar(id, left, right, top, bottom, colors, levels, labelY) {
  const g = document.createElementNS(NS, 'g');
  
  
  figure.appendChild(g);
  const w = (right - left) / colors.length;
  colors.forEach(function (c, i) {
    const box = document.createElementNS(NS, 'rect');
    
    
    box.setAttribute('x', left + i * w);
    box.setAttribute('y', top);
    box.setAttribute('width', w);
    box.setAttribute('height', bottom - top);
    box.setAttribute('fill', c);
    box.setAttribute('stroke', '#111');
    box.setAttribute('stroke-width', '1.5');
    g.appendChild(box);
  });
  levels.forEach(function (lv, i) {
    addText(g, String(lv), left + (i + 1) * w, labelY, 30, 'middle');
  });
}

const axesA = makeAxes(196.3, 986, 58.5, 495.5, 24);
const axesC = makeAxes(1238.5, 2027.7, 58.5, 495.5, 24);
const axesB = makeAxes(193, 973, 829, 1262, 19);
const axesD = makeAxes(1252.4, 2033, 829, 1262, 19);

drawPanel('a', axesA, paintA, tbColors, aTrack, [], lonTicksTop, hourTicksTop, hourLabelsTop, 153, 12);
drawPanel('c', axesC, paintC, rainColors, cTrack, [[cContourBlue, '#1a1ae6'], [cContourGreen, '#33e633'], [cRain5, '#ffec33'], [cContourYellow, '#ffec33']], lonTicksTop, hourTicksTop, hourLabelsTop, 1194.5, 12);
drawPanel('b', axesB, paintB, tbColors, bdTrack, [], lonTicksBottom, hourTicksBottom, hourLabelsBottom, 151.5, 13);
drawPanel('d', axesD, paintD, rainColors, bdTrack, [], lonTicksBottom, hourTicksBottom, hourLabelsBottom, 1211, 13);

cLabelText.forEach(function (t, i) {
  const el = document.createElementNS(NS, 'text');
  
  
  el.setAttribute('x', axesC.x(cLabelLon[i]));
  el.setAttribute('y', axesC.y(cLabelHour[i]) + 9);
  el.setAttribute('font-size', '25');
  el.setAttribute('text-anchor', 'middle');
  el.textContent = t;
  figure.appendChild(el);
});

drawColorbar('a', 288.5, 891, 592.7, 629.5, tbColors, tbLevels, 662);
drawColorbar('c', 1331.4, 1932.9, 592.7, 629.5, rainColors, rainLevels, 662);
drawColorbar('b', 284.6, 880.8, 1357, 1393.3, tbColors, tbLevels, 1425.6);
drawColorbar('d', 1344.6, 1940.8, 1357, 1393.3, rainColors, rainLevels, 1425.6);
</script>
</body>
</html>
